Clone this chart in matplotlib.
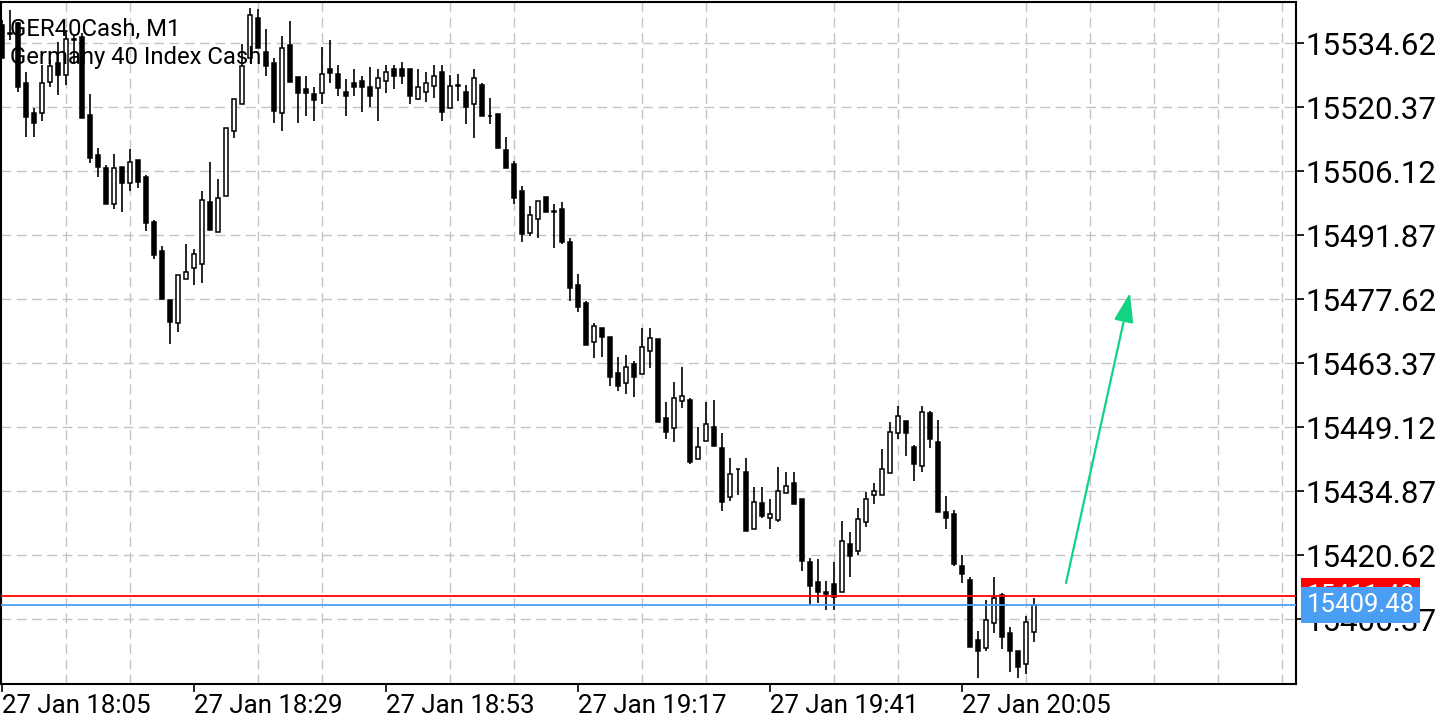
import matplotlib
matplotlib.use("Agg")
import matplotlib.pyplot as plt
import matplotlib.transforms as mtransforms
import numpy as np
import pandas as pd

plt.rcParams['font.family'] = ['Roboto', 'DejaVu Sans']

# ---- data ----
symbol = "GER40Cash, M1"
description = "Germany 40 Index Cash"
start_time = "2023-01-27 18:05"

opens = [
    15538.6, 15536.9, 15539.1, 15525.7, 15519.0, 15519.0, 15525.9, 15530.2, 15527.5, 15535.3,
    15536.0, 15518.6, 15509.7, 15506.8, 15498.8, 15507.0, 15503.4, 15508.6, 15504.8, 15494.8,
    15488.3, 15477.4, 15472.3, 15482.1, 15484.5, 15485.4, 15499.2, 15492.5, 15500.6, 15515.0,
    15521.0, 15531.3, 15540.2, 15532.6, 15530.2, 15519.0, 15534.2, 15527.0, 15524.4, 15523.3,
    15523.5, 15528.8, 15527.7, 15523.7, 15525.7, 15526.2, 15524.8, 15524.6, 15526.2, 15528.8,
    15528.8, 15528.8, 15522.2, 15523.7, 15525.0, 15528.2, 15520.2, 15525.0, 15523.7, 15521.0,
    15525.3, 15518.4, 15518.8, 15510.8, 15507.7, 15501.7, 15492.3, 15495.4, 15500.3, 15497.2,
    15497.7, 15490.3, 15480.7, 15476.7, 15468.0, 15471.2, 15469.2, 15461.1, 15458.9, 15463.1,
    15460.9, 15466.0, 15468.7, 15451.1, 15448.9, 15454.9, 15455.1, 15442.0, 15446.0, 15449.1,
    15444.4, 15433.5, 15439.8, 15439.1, 15426.4, 15432.2, 15428.8, 15428.4, 15434.4, 15436.6,
    15433.1, 15419.0, 15414.6, 15412.4, 15414.1, 15412.4, 15423.1, 15421.5, 15428.0, 15434.0,
    15434.0, 15438.9, 15447.8, 15450.4, 15444.7, 15440.4, 15452.2, 15445.8, 15430.2, 15429.7,
    15418.2, 15415.0, 15401.7, 15399.9, 15405.5, 15411.7, 15403.2, 15399.2, 15396.3, 15403.5,
]
highs = [
    15539.7, 15542.0, 15539.3, 15528.2, 15520.2, 15529.7, 15530.8, 15534.8, 15537.1, 15536.4,
    15536.9, 15523.3, 15511.2, 15507.5, 15509.9, 15507.0, 15511.0, 15508.6, 15505.2, 15495.2,
    15489.4, 15477.4, 15483.0, 15489.9, 15488.8, 15501.7, 15508.1, 15504.3, 15515.7, 15522.2,
    15534.4, 15542.4, 15542.2, 15537.7, 15531.3, 15536.2, 15539.5, 15527.0, 15527.3, 15524.8,
    15533.7, 15535.3, 15529.7, 15526.6, 15528.8, 15527.3, 15529.3, 15528.8, 15529.7, 15529.7,
    15530.4, 15528.8, 15528.8, 15528.2, 15529.7, 15529.7, 15527.5, 15527.7, 15525.3, 15528.8,
    15525.7, 15522.4, 15518.8, 15513.7, 15508.3, 15502.8, 15498.3, 15499.4, 15500.3, 15498.8,
    15499.2, 15491.2, 15483.2, 15477.2, 15472.3, 15471.2, 15469.2, 15464.7, 15465.1, 15463.8,
    15471.2, 15471.2, 15468.7, 15454.7, 15459.1, 15462.5, 15455.6, 15449.1, 15454.7, 15455.1,
    15447.8, 15442.2, 15439.8, 15442.2, 15435.8, 15435.8, 15433.1, 15440.2, 15439.1, 15439.1,
    15433.1, 15419.9, 15419.7, 15414.8, 15419.0, 15428.2, 15425.7, 15431.1, 15434.6, 15436.6,
    15444.2, 15450.2, 15453.8, 15450.4, 15445.1, 15453.8, 15452.7, 15450.7, 15433.7, 15430.6,
    15420.6, 15415.7, 15403.7, 15410.6, 15415.7, 15412.1, 15404.6, 15399.2, 15407.0, 15411.0,
]
lows = [
    15531.3, 15535.3, 15523.7, 15513.7, 15513.7, 15517.3, 15524.8, 15523.0, 15525.3, 15530.2,
    15517.9, 15507.9, 15504.8, 15498.8, 15497.7, 15497.0, 15501.7, 15502.3, 15492.8, 15486.5,
    15477.6, 15467.6, 15470.3, 15482.1, 15480.7, 15481.2, 15493.0, 15492.5, 15500.6, 15513.5,
    15521.0, 15531.3, 15533.5, 15527.3, 15516.8, 15515.0, 15525.9, 15516.8, 15518.4, 15517.3,
    15521.0, 15525.7, 15522.8, 15518.4, 15522.8, 15519.3, 15520.4, 15517.3, 15523.5, 15524.4,
    15525.5, 15521.0, 15521.9, 15521.5, 15522.4, 15517.3, 15520.2, 15521.7, 15516.6, 15513.5,
    15518.4, 15516.6, 15511.2, 15506.8, 15498.8, 15490.3, 15491.6, 15491.2, 15497.0, 15489.0,
    15489.9, 15477.2, 15474.7, 15467.4, 15464.5, 15464.7, 15458.2, 15457.1, 15456.5, 15455.8,
    15460.9, 15462.3, 15450.2, 15446.4, 15445.8, 15453.3, 15440.9, 15442.0, 15446.0, 15444.9,
    15430.4, 15432.6, 15434.0, 15426.0, 15426.4, 15428.8, 15426.4, 15428.0, 15434.4, 15432.0,
    15417.0, 15409.5, 15409.9, 15408.4, 15408.4, 15412.4, 15415.7, 15420.6, 15426.8, 15432.0,
    15434.0, 15438.9, 15446.4, 15442.7, 15437.1, 15439.1, 15444.4, 15430.2, 15426.4, 15418.2,
    15414.4, 15400.1, 15393.2, 15399.2, 15403.2, 15399.7, 15394.5, 15393.2, 15394.1, 15401.2,
]
closes = [
    15531.3, 15536.7, 15524.8, 15518.1, 15516.8, 15525.7, 15529.5, 15527.5, 15535.5, 15535.6,
    15517.9, 15509.0, 15507.0, 15498.8, 15506.8, 15503.4, 15508.1, 15503.7, 15494.5, 15487.4,
    15477.6, 15472.5, 15483.0, 15483.6, 15487.6, 15499.7, 15493.0, 15500.1, 15515.7, 15522.2,
    15529.5, 15540.9, 15533.5, 15529.5, 15519.5, 15533.5, 15525.9, 15523.5, 15523.5, 15521.9,
    15527.7, 15527.9, 15524.6, 15522.8, 15524.8, 15524.8, 15522.8, 15526.8, 15528.2, 15527.3,
    15527.3, 15522.8, 15524.8, 15525.7, 15527.3, 15519.3, 15525.0, 15525.3, 15520.4, 15526.8,
    15518.4, 15518.3, 15511.2, 15506.8, 15500.1, 15492.1, 15496.3, 15499.4, 15497.0, 15497.1,
    15490.3, 15480.1, 15475.8, 15467.4, 15471.6, 15469.2, 15460.2, 15458.2, 15462.5, 15460.2,
    15466.9, 15468.9, 15450.2, 15448.0, 15455.6, 15456.0, 15441.3, 15444.7, 15449.8, 15444.9,
    15432.4, 15438.6, 15439.7, 15426.0, 15432.4, 15429.3, 15429.7, 15434.9, 15436.0, 15432.0,
    15419.3, 15413.7, 15412.4, 15411.9, 15411.2, 15423.7, 15420.4, 15428.6, 15433.1, 15434.9,
    15439.8, 15448.0, 15451.6, 15447.8, 15440.9, 15452.4, 15446.4, 15430.2, 15428.8, 15418.6,
    15416.4, 15400.1, 15399.2, 15406.1, 15411.0, 15402.3, 15399.2, 15395.7, 15405.7, 15409.48,
]

bid = 15409.48
ask = 15411.48
price_ticks = [15534.62, 15520.37, 15506.12, 15491.87, 15477.62,
               15463.37, 15449.12, 15434.87, 15420.62, 15406.37]
label_bars = [0, 24, 48, 72, 96, 120]
arrow_start = (133, 15414.4)   # (bar, price)
arrow_end = (141, 15479.0)

# ---- figure ----
o = np.array(opens)
h = np.array(highs)
l = np.array(lows)
c = np.array(closes)
x = np.arange(len(c))
times = pd.date_range(start_time, periods=len(c), freq="min")

fig = plt.figure(figsize=(14.4, 7.2), dpi=100)
ax = fig.add_axes([1 / 1440, 36 / 720, 1295 / 1440, 682 / 720])

ax.vlines(x, l, h, color="black", lw=1.2, zorder=2)
bull = c >= o
bottom = np.minimum(o, c)
height = np.abs(c - o)
ax.bar(x[bull], height[bull], bottom=bottom[bull], width=0.58,
       facecolor="white", edgecolor="black", linewidth=1.1, zorder=3)
ax.bar(x[~bull], height[~bull], bottom=bottom[~bull], width=0.58,
       facecolor="black", edgecolor="black", linewidth=1.1, zorder=3)

# bid / ask lines
ax.axhline(ask, color="#ff0000", lw=1.3, zorder=4)
ax.axhline(bid, color="#4a9ff5", lw=1.3, zorder=4)

# arrow
ax.annotate("", xy=arrow_end, xytext=arrow_start,
            arrowprops=dict(arrowstyle="-|>,head_length=1.8,head_width=0.6",
                            color="#12d283", lw=1.6, shrinkA=0, shrinkB=0),
            zorder=5)

ax.set_xlim(-0.125, 161.75)
ax.set_ylim(15391.9, 15543.75)

# axes / grid
ax.yaxis.tick_right()
ax.set_yticks(price_ticks)
ax.set_yticklabels([f"{p:.2f}" for p in price_ticks])
ax.set_xticks(label_bars)
ax.set_xticklabels([times[i].strftime("%d %b %H:%M") for i in label_bars], ha="left")
ax.set_xticks(np.arange(0, 162, 8), minor=True)
ax.tick_params(axis="x", which="minor", length=0)
ax.tick_params(axis="both", which="major", direction="out", length=6, width=1.2,
               colors="black")
ax.tick_params(axis="y", pad=1, labelsize=22.5)
ax.tick_params(axis="x", pad=1, labelsize=18.6)
ax.grid(axis="y", which="major", color="#c4c4c4", lw=1.0, linestyle=(0, (7, 4)))
ax.grid(axis="x", which="minor", color="#c4c4c4", lw=1.0, linestyle=(0, (7, 4)))
ax.set_axisbelow(True)
for s in ax.spines.values():
    s.set_color("black")
    s.set_linewidth(1.5)

# price labels on the right scale
trans = mtransforms.blended_transform_factory(ax.transAxes, ax.transData)
ax.text(1.008, ask, f"{ask:.2f}", transform=trans, color="white", fontsize=18.5,
        va="center", ha="left", clip_on=False, zorder=6,
        bbox=dict(boxstyle="square,pad=0.22", fc="#ff0000", ec="none"))
ax.text(1.008, bid, f"{bid:.2f}", transform=trans, color="white", fontsize=18.5,
        va="center", ha="left", clip_on=False, zorder=7,
        bbox=dict(boxstyle="square,pad=0.22", fc="#4a9ff5", ec="none"))

fig.text(10 / 1440, 1 - 36 / 720, symbol, fontsize=17.2, va="baseline", ha="left")
fig.text(10 / 1440, 1 - 64 / 720, description, fontsize=17.2, va="baseline", ha="left")

fig.savefig("out.png", dpi=100)
